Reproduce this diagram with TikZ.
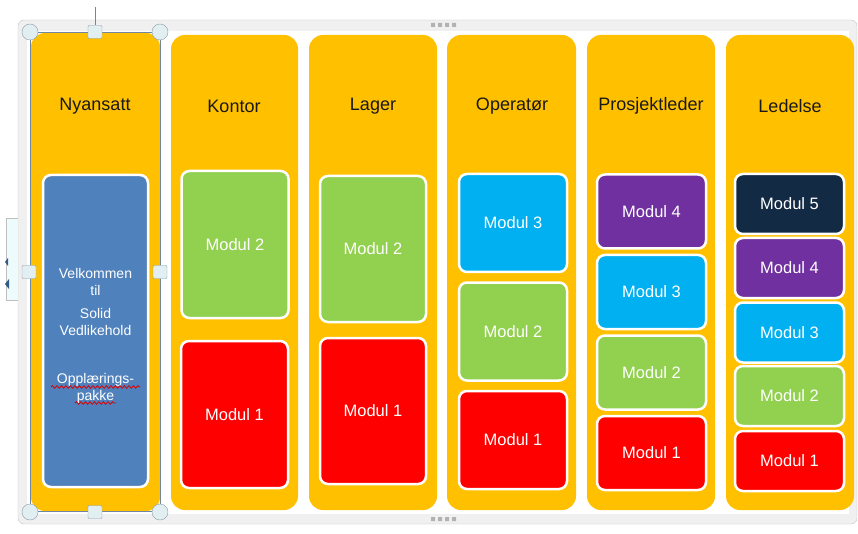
\documentclass[tikz,border=0pt]{standalone}
\usepackage{fontspec}
\setmainfont{Liberation Sans}
\usetikzlibrary{decorations.pathmorphing}

\definecolor{laneOrange}{HTML}{FFC000}
\definecolor{modBlue}{HTML}{4F81BD}
\definecolor{modGreen}{HTML}{92D050}
\definecolor{modRed}{HTML}{FF0000}
\definecolor{modCyan}{HTML}{00B0F0}
\definecolor{modPurple}{HTML}{7030A0}
\definecolor{modNavy}{HTML}{132A45}
\definecolor{frameFill}{HTML}{F0F0F0}
\definecolor{frameEdge}{HTML}{C4C4C4}
\definecolor{paneFill}{HTML}{EEFBFD}
\definecolor{paneMark}{HTML}{2F5C8A}
\definecolor{selLine}{HTML}{6F87A0}
\definecolor{handleFill}{HTML}{E2EFF2}
\definecolor{handleEdge}{HTML}{8D9DA8}

\begin{document}
\begin{tikzpicture}[x=1pt,y=1pt,yscale=-1,xscale=1,
  lane/.style={fill=laneOrange, rounded corners=14pt},
  modul/.style={draw=white, line width=2.5pt, rounded corners=8pt, text=white,
    font=\fontsize{16.5}{18}\selectfont, inner sep=2pt, align=center},
  header/.style={text=black!90, font=\fontsize{18}{20}\selectfont},
  hround/.style={circle, draw=handleEdge, fill=handleFill, minimum size=16pt, inner sep=0pt},
  hsquare/.style={draw=handleEdge, fill=handleFill, minimum width=14pt, minimum height=13pt,
    inner sep=0pt, rounded corners=1pt},
  grip/.style={fill=black!30},
  spell/.style={color=red!85!black, line width=0.8pt, decorate,
    decoration={snake, amplitude=1.3pt, segment length=4.5pt}}]
\useasboundingbox (0,0) rectangle (858,534);

%Shape: Frame
\draw [draw=frameEdge, fill=frameFill, rounded corners=6pt] (18,20) rectangle (857,524);
\fill [white] (27,31) rectangle (849,514);
% grips on the frame
\fill [grip] (431,23) rectangle +(4,4) (438,23) rectangle +(4,4) (445,23) rectangle +(4,4) (452,23) rectangle +(4,4);
\fill [grip] (431,517) rectangle +(4,4) (438,517) rectangle +(4,4) (445,517) rectangle +(4,4) (452,517) rectangle +(4,4);

%Shape: Text pane button
\draw [draw=black!25, fill=paneFill] (18,218) -- (6,218) -- (6,300) -- (18,300);
\fill [paneMark] (8,258) -- (5,262) -- (8,266) -- cycle;
\fill [paneMark] (9,279) -- (5,284) -- (9,289) -- cycle;

%Shape: Lanes
\fill [lane] (31,33) rectangle (160,511);
\fill [lane] (171,35) rectangle (298,510);
\fill [lane] (309,35) rectangle (437,510);
\fill [lane] (447,35) rectangle (576,510);
\fill [lane] (587,35) rectangle (715,510);
\fill [lane] (726,35) rectangle (854,510);

% Text Node
\node [header] (hNyansatt) at (95,106) {Nyansatt};
\node [header] (hKontor) at (234,106) {Kontor};
\node [header] (hLager) at (373,106) {Lager};
\node [header] (hOperator) at (512,106) {Operatør};
\node [header] (hProsjekt) at (651,106) {Prosjektleder};
\node [header] (hLedelse) at (790,106) {Ledelse};

%Nyansatt
\node [modul, fill=modBlue, minimum width=105, minimum height=312] (nyPakke) at (95.5,331) {};
\node [text=white, align=center, inner sep=0pt, font=\fontsize{14}{16.5}\selectfont] (nyText) at (95.5,336)
  {Velkommen\\til\\[7pt]Solid\\Vedlikehold\\[32pt]Opplærings-\\pakke};
\draw [spell] (51,387) -- (140,387);
\draw [spell] (75,403) -- (116,403);

%Kontor
\node [modul, fill=modGreen, minimum width=107, minimum height=147] (kontorM2) at (235,244.5) {Modul 2};
\node [modul, fill=modRed, minimum width=107, minimum height=147] (kontorM1) at (234.5,414.5) {Modul 1};

%Lager
\node [modul, fill=modGreen, minimum width=106, minimum height=146] (lagerM2) at (373,249) {Modul 2};
\node [modul, fill=modRed, minimum width=106, minimum height=146] (lagerM1) at (373,411) {Modul 1};

%Operator
\node [modul, fill=modCyan, minimum width=108, minimum height=98] (operM3) at (513,223) {Modul 3};
\node [modul, fill=modGreen, minimum width=108, minimum height=98] (operM2) at (513,331.5) {Modul 2};
\node [modul, fill=modRed, minimum width=108, minimum height=98] (operM1) at (513,440) {Modul 1};

%Prosjektleder
\node [modul, fill=modPurple, minimum width=109, minimum height=74] (prosM4) at (651.5,211.5) {Modul 4};
\node [modul, fill=modCyan, minimum width=109, minimum height=74] (prosM3) at (651.5,292) {Modul 3};
\node [modul, fill=modGreen, minimum width=109, minimum height=74] (prosM2) at (651.5,372.5) {Modul 2};
\node [modul, fill=modRed, minimum width=109, minimum height=74] (prosM1) at (651.5,453) {Modul 1};

%Ledelse
\node [modul, fill=modNavy, minimum width=109, minimum height=60] (ledM5) at (789.5,204) {Modul 5};
\node [modul, fill=modPurple, minimum width=109, minimum height=60] (ledM4) at (789.5,268) {Modul 4};
\node [modul, fill=modCyan, minimum width=109, minimum height=60] (ledM3) at (789.5,332.5) {Modul 3};
\node [modul, fill=modGreen, minimum width=109, minimum height=60] (ledM2) at (789.5,396) {Modul 2};
\node [modul, fill=modRed, minimum width=109, minimum height=60] (ledM1) at (789.5,461) {Modul 1};

%Selection box round the first lane
\draw [color=selLine, line width=1pt] (30.5,32.5) rectangle (160.5,511.5);
\node [hround] (hNW) at (30,32) {};
\node [hsquare] (hN) at (95,32) {};
\node [hround] (hNE) at (160,32) {};
\node [hsquare] (hW) at (29,272) {};
\node [hsquare] (hE) at (160,272) {};
\node [hround] (hSW) at (30,512) {};
\node [hsquare] (hS) at (95,512) {};
\node [hround] (hSE) at (160,512) {};
\coordinate (rotTip) at (95,7);
\draw [color=selLine, line width=1pt] (rotTip) -- (hN.north);
\end{tikzpicture}
\end{document}
